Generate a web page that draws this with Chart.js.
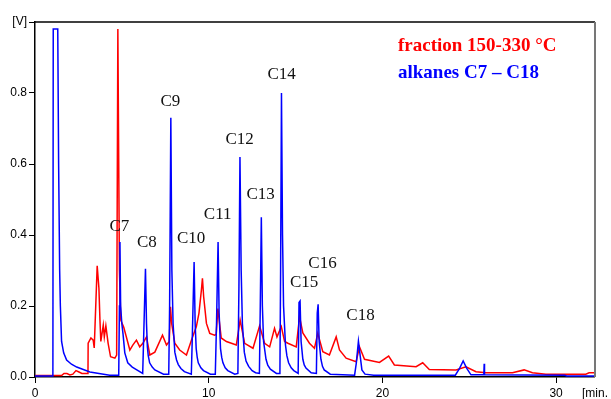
<!DOCTYPE html>
<html>
<head>
<meta charset="utf-8">
<script src="https://cdn.jsdelivr.net/npm/chart.js@4"></script>
<style>
  html, body { margin: 0; padding: 0; background: #fff; }
  #wrap { width: 611px; height: 399px; }
</style>
</head>
<body>
<div id="wrap"><canvas id="grafico"></canvas></div>
<script>
// retention time [min] and detector signal [V]
const fractionTime = [0, 1.53, 1.67, 1.84, 2.01, 2.18, 2.36, 2.53, 2.70, 3.05, 3.06, 3.22, 3.35, 3.41, 3.58, 3.68, 3.74, 3.79, 3.93, 3.99, 4.08, 4.21, 4.35, 4.60, 4.70, 4.77, 4.86, 4.94, 5.11, 5.46, 5.63, 5.84, 6.03, 6.21, 6.42, 6.61, 6.90, 7.34, 7.57, 7.73, 7.80, 7.87, 8.05, 8.33, 8.72, 9.01, 9.29, 9.44, 9.58, 9.64, 9.71, 9.87, 10.06, 10.34, 10.43, 10.53, 10.72, 11.02, 11.59, 11.81, 12.07, 12.55, 12.93, 13.22, 13.51, 13.79, 13.93, 14.18, 14.37, 14.56, 15.04, 15.23, 15.42, 15.80, 16.09, 16.28, 16.57, 16.95, 17.34, 17.53, 17.91, 18.49, 18.68, 18.97, 19.83, 20.36, 20.69, 21.94, 22.32, 22.70, 24.24, 24.81, 25.39, 25.96, 27.49, 28.16, 28.64, 29.41, 31.71, 31.90, 32.24];
const fractionSignal = [0.004, 0.004, 0.010, 0.010, 0.006, 0.008, 0.018, 0.014, 0.010, 0.010, 0.095, 0.110, 0.104, 0.082, 0.313, 0.250, 0.160, 0.100, 0.146, 0.113, 0.144, 0.095, 0.057, 0.053, 0.062, 0.980, 0.300, 0.160, 0.140, 0.076, 0.090, 0.104, 0.085, 0.095, 0.113, 0.062, 0.070, 0.118, 0.090, 0.100, 0.198, 0.150, 0.095, 0.076, 0.062, 0.104, 0.142, 0.180, 0.245, 0.278, 0.226, 0.151, 0.123, 0.118, 0.120, 0.193, 0.110, 0.100, 0.090, 0.160, 0.095, 0.081, 0.144, 0.095, 0.085, 0.137, 0.113, 0.142, 0.100, 0.095, 0.085, 0.170, 0.124, 0.095, 0.081, 0.123, 0.071, 0.062, 0.113, 0.076, 0.053, 0.043, 0.085, 0.050, 0.041, 0.059, 0.034, 0.029, 0.040, 0.021, 0.020, 0.029, 0.015, 0.012, 0.012, 0.020, 0.012, 0.008, 0.008, 0.012, 0.012];

const alkaneTime = [0, 1.03, 1.05, 1.31, 1.36, 1.42, 1.46, 1.53, 1.65, 1.82, 2.10, 2.40, 3.16, 4.30, 4.82,
  4.86, 4.89, 4.93, 5.00, 5.07, 5.17, 5.34, 5.60, 5.86, 6.20,
  6.25, 6.36, 6.42, 6.47, 6.52, 6.60, 6.75, 6.90, 7.40, 7.70,
  7.75, 7.82, 7.88, 7.95, 8.05, 8.15, 8.25, 8.40, 8.60, 9.00,
  9.05, 9.16, 9.22, 9.28, 9.34, 9.40, 9.55, 9.70, 10.10, 10.38,
  10.45, 10.54, 10.60, 10.68, 10.75, 10.82, 10.95, 11.10, 11.50, 11.68,
  11.74, 11.80, 11.87, 11.94, 12.05, 12.15, 12.30, 12.50, 12.70, 12.92,
  12.97, 13.03, 13.09, 13.16, 13.30, 13.40, 13.55, 13.90, 14.10,
  14.14, 14.19, 14.25, 14.31, 14.42, 14.50, 14.60, 14.75, 14.90, 15.15,
  15.20, 15.26, 15.32, 15.42, 15.50, 15.60, 15.90, 16.20,
  16.25, 16.30, 16.36, 16.46, 16.55, 16.65, 17.00, 18.40,
  18.50, 18.62, 18.72, 18.82, 19.00, 19.50,
  24.20, 24.45, 24.65, 24.85, 25.10, 25.84, 25.86, 25.88, 30.50, 30.60, 32.24];
const alkaneSignal = [0.003, 0.003, 0.980, 0.980, 0.600, 0.300, 0.200, 0.100, 0.068, 0.048, 0.036, 0.028, 0.014, 0.005, 0.005,
  0.200, 0.380, 0.200, 0.150, 0.120, 0.068, 0.040, 0.028, 0.020, 0.010,
  0.100, 0.305, 0.150, 0.085, 0.060, 0.040, 0.028, 0.020, 0.008, 0.008,
  0.200, 0.730, 0.300, 0.150, 0.070, 0.048, 0.035, 0.024, 0.015, 0.008,
  0.100, 0.324, 0.150, 0.080, 0.055, 0.040, 0.026, 0.018, 0.008, 0.008,
  0.150, 0.380, 0.180, 0.080, 0.055, 0.040, 0.026, 0.018, 0.008, 0.010,
  0.250, 0.620, 0.300, 0.150, 0.070, 0.045, 0.030, 0.018, 0.012, 0.010,
  0.200, 0.450, 0.200, 0.100, 0.050, 0.033, 0.022, 0.010, 0.010,
  0.300, 0.800, 0.400, 0.200, 0.090, 0.060, 0.040, 0.026, 0.018, 0.010,
  0.210, 0.214, 0.100, 0.050, 0.034, 0.025, 0.012, 0.010,
  0.180, 0.205, 0.100, 0.050, 0.030, 0.020, 0.008, 0.005,
  0.040, 0.101, 0.060, 0.020, 0.008, 0.005,
  0.005, 0.025, 0.045, 0.025, 0.006, 0.006, 0.037, 0.006, 0.005, 0.003, 0.003];

// peak names and where their labels sit (time, signal)
const peakNames = ["C7", "C8", "C9", "C10", "C11", "C12", "C13", "C14", "C15", "C16", "C18"];
const peakLabelTime = [4.86, 6.44, 7.79, 8.99, 10.52, 11.78, 12.99, 14.20, 15.49, 16.55, 18.74];
const peakLabelSignal = [0.425, 0.380, 0.777, 0.389, 0.459, 0.668, 0.515, 0.851, 0.265, 0.321, 0.172];

const xTicks = [0, 10, 20, 30];
const yTicks = [0, 0.2, 0.4, 0.6, 0.8, 1.0];
const xMax = 32.24;
const yMax = 1.0;

const seriesNames = ["fraction 150-330 °C", "alkanes C7 – C18"];

const toPoints = (t, s) => t.map((v, i) => ({ x: v, y: s[i] }));

// frame, peak names and the text legend
const extras = {
  id: "extras",
  afterDraw(chart) {
    const ctx = chart.ctx;
    const a = chart.chartArea;
    const xs = chart.scales.x, ys = chart.scales.y;
    ctx.save();
    ctx.lineWidth = 1.5;
    ctx.strokeStyle = "#000";
    ctx.beginPath();
    ctx.moveTo(a.left, a.top);
    ctx.lineTo(a.right, a.top);
    ctx.stroke();
    ctx.lineWidth = 2;
    ctx.strokeStyle = "#777";
    ctx.beginPath();
    ctx.moveTo(a.right, a.top);
    ctx.lineTo(a.right, a.bottom);
    ctx.stroke();

    ctx.font = "17px 'Liberation Serif'";
    ctx.textAlign = "center";
    ctx.textBaseline = "middle";
    peakNames.forEach((name, i) => {
      const px = xs.getPixelForValue(peakLabelTime[i]);
      const py = ys.getPixelForValue(peakLabelSignal[i]);
      ctx.fillStyle = "#111";
      ctx.fillText(name, px, py);
    });

    ctx.textAlign = "left";
    ctx.textBaseline = "alphabetic";
    ctx.font = "bold 19px 'Liberation Serif'";
    ctx.fillStyle = "#ff0000";
    ctx.fillText(seriesNames[0], 398, 51);
    ctx.fillStyle = "#0000ff";
    ctx.fillText(seriesNames[1], 398, 78);
    ctx.restore();
  }
};

const grafico = document.getElementById("grafico");

new Chart(grafico, {
  type: "line",
  data: {
    datasets: [
      {
        label: seriesNames[1],
        data: toPoints(alkaneTime, alkaneSignal),
        borderColor: "#0000ff",
        borderWidth: 1.5,
        pointRadius: 0,
        tension: 0
      },
      {
        label: seriesNames[0],
        data: toPoints(fractionTime, fractionSignal),
        borderColor: "#ff0000",
        borderWidth: 1.5,
        pointRadius: 0,
        tension: 0
      }
    ]
  },
  options: {
    responsive: true,
    maintainAspectRatio: false,
    animation: false,
    layout: { padding: { top: 22, right: 15, left: 0, bottom: 0 } },
    plugins: { legend: { display: false }, tooltip: { enabled: false } },
    scales: {
      x: {
        type: "linear",
        min: 0,
        max: xMax,
        afterBuildTicks: (s) => { s.ticks = xTicks.map(v => ({ value: v })).concat([{ value: xMax }]); },
        afterFit: (s) => { s.height = 22; },
        border: { color: "#000", width: 1.5 },
        grid: {
          drawOnChartArea: false,
          tickLength: 6,
          tickColor: (c) => (c.tick && c.tick.value === xMax ? "transparent" : "#000")
        },
        ticks: {
          color: "#000",
          padding: 3,
          maxRotation: 0,
          font: { family: "'Liberation Sans'", size: 12 },
          callback: (v) => (v === xMax ? "[min." : String(v))
        }
      },
      y: {
        type: "linear",
        min: 0,
        max: yMax,
        afterBuildTicks: (s) => { s.ticks = yTicks.map(v => ({ value: v })); },
        afterFit: (s) => { s.width = 35; },
        border: { color: "#000", width: 1.5 },
        grid: { drawOnChartArea: false, tickLength: 6, tickColor: "#000" },
        ticks: {
          color: "#000",
          padding: 2,
          font: { family: "'Liberation Sans'", size: 12 },
          callback: (v) => (Math.abs(v - yMax) < 1e-6 ? "[V]" : v.toFixed(1))
        }
      }
    }
  },
  plugins: [extras]
});
</script>
</body>
</html>
